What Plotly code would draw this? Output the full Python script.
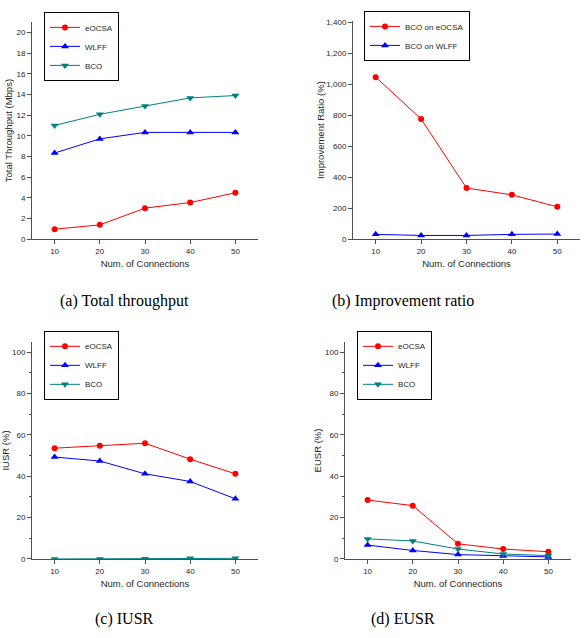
import plotly.graph_objects as go

# ---------------- data ----------------
connections = [10, 20, 30, 40, 50]

thr_eocsa = [0.95, 1.37, 2.99, 3.53, 4.48]
thr_wlff = [8.33, 9.70, 10.33, 10.33, 10.33]
thr_bco = [11.0, 12.08, 12.88, 13.67, 13.90]

imp_on_eocsa = [1045, 775, 329, 285, 208]
imp_on_wlff = [30, 23, 23, 30, 32]

iusr_eocsa = [53.6, 54.8, 56.0, 48.3, 41.2]
iusr_wlff = [49.3, 47.4, 41.2, 37.5, 29.1]
iusr_bco = [0.0, 0.0, 0.1, 0.3, 0.3]

eusr_eocsa = [28.5, 25.8, 7.3, 4.8, 3.5]
eusr_wlff = [6.7, 4.1, 2.1, 1.4, 1.0]
eusr_bco = [9.7, 8.7, 4.8, 2.4, 1.6]

captions = ["(a) Total throughput", "(b) Improvement ratio", "(c) IUSR", "(d) EUSR"]

# ---------------- styling ----------------
W, H = 586, 638
RED, BLUE, TEAL = "#ff0000", "#0000ff", "#008080"
FONT = "Liberation Sans, Arial, sans-serif"
AXC = "#505050"
TXT = "#262626"


def fx(p):
    return p / W


def fy(p):
    return 1 - p / H


fig = go.Figure()


def add(x, y, name, color, symbol, xa, ya, leg):
    fig.add_trace(go.Scatter(
        x=x, y=y, name=name, mode="lines+markers",
        line=dict(color=color, width=1),
        marker=dict(color=color, symbol=symbol, size=6 if symbol == "circle" else 7),
        xaxis=xa, yaxis=ya, legend=leg,
    ))


add(connections, thr_eocsa, "eOCSA", RED, "circle", "x", "y", "legend")
add(connections, thr_wlff, "WLFF", BLUE, "triangle-up", "x", "y", "legend")
add(connections, thr_bco, "BCO", TEAL, "triangle-down", "x", "y", "legend")

add(connections, imp_on_eocsa, "BCO on eOCSA", RED, "circle", "x2", "y2", "legend2")
add(connections, imp_on_wlff, "BCO on WLFF", BLUE, "triangle-up", "x2", "y2", "legend2")

add(connections, iusr_eocsa, "eOCSA", RED, "circle", "x3", "y3", "legend3")
add(connections, iusr_wlff, "WLFF", BLUE, "triangle-up", "x3", "y3", "legend3")
add(connections, iusr_bco, "BCO", TEAL, "triangle-down", "x3", "y3", "legend3")

add(connections, eusr_eocsa, "eOCSA", RED, "circle", "x4", "y4", "legend4")
add(connections, eusr_wlff, "WLFF", BLUE, "triangle-up", "x4", "y4", "legend4")
add(connections, eusr_bco, "BCO", TEAL, "triangle-down", "x4", "y4", "legend4")


def xax(domain, anchor):
    return dict(
        domain=domain, anchor=anchor, range=[5, 55], dtick=10, tick0=0,
        showline=True, linecolor=AXC, linewidth=1, ticks="outside", ticklen=4,
        tickcolor=AXC, tickwidth=1, showgrid=False, zeroline=False,
        tickfont=dict(size=8, color=TXT),
        title=dict(text="Num. of Connections", font=dict(size=9.5, color=TXT), standoff=5),
    )


def yax(domain, anchor, rng, dtick, title, minor=None, fmt=None, standoff=3):
    d = dict(
        domain=domain, anchor=anchor, range=rng, dtick=dtick, tick0=0,
        showline=True, linecolor=AXC, linewidth=1, ticks="outside", ticklen=4,
        tickcolor=AXC, tickwidth=1, showgrid=False, zeroline=False,
        tickfont=dict(size=8, color=TXT),
        title=dict(text=title, font=dict(size=9.5, color=TXT), standoff=standoff),
    )
    if minor:
        d["minor"] = dict(dtick=minor, ticks="outside", ticklen=2, tickcolor=AXC, showgrid=False)
    if fmt:
        d["tickformat"] = fmt
    return d


def leg(x, y):
    return dict(
        x=x, y=y, xanchor="left", yanchor="top", bgcolor="white",
        bordercolor="#000000", borderwidth=1, font=dict(size=8, color=TXT, family=FONT),
        itemwidth=30, tracegroupgap=0,
    )


ann = []
cap_pos = [(124, 302), (403, 302), (124, 624), (403, 624)]
for text, (cx, cy) in zip(captions, cap_pos):
    ann.append(dict(
        text=text, x=fx(cx), y=fy(cy), xref="paper", yref="paper",
        xanchor="center", yanchor="middle", showarrow=False,
        font=dict(family="Liberation Serif, Times New Roman, serif", size=16, color="#000000"),
    ))

fig.update_layout(
    width=W, height=H, margin=dict(l=0, r=0, t=0, b=0),
    paper_bgcolor="white", plot_bgcolor="white",
    font=dict(family=FONT, color=TXT),
    xaxis=xax([fx(32), fx(258)], "y"),
    yaxis=yax([fy(239), fy(19.5)], "x", [0, 21], 2, "Total Throughput (Mbps)", standoff=2),
    xaxis2=xax([fx(353), fx(580)], "y2"),
    yaxis2=yax([fy(239), fy(18.3)], "x2", [0, 1407], 200, "Improvement Ratio (%)", fmt=",", standoff=0),
    xaxis3=xax([fx(32), fx(258)], "y3"),
    yaxis3=yax([fy(563), fy(343.3)], "x3", [0, 105], 20, "IUSR (%)", minor=10, standoff=2),
    xaxis4=xax([fx(345), fx(571)], "y4"),
    yaxis4=yax([fy(563), fy(343.3)], "x4", [0, 105], 20, "EUSR (%)", minor=10, standoff=1),
    legend=leg(fx(44), fy(9)),
    legend2=leg(fx(364), fy(8)),
    legend3=leg(fx(44), fy(332)),
    legend4=leg(fx(357), fy(332)),
    annotations=ann,
    showlegend=True,
)

fig.write_html("out.html")
